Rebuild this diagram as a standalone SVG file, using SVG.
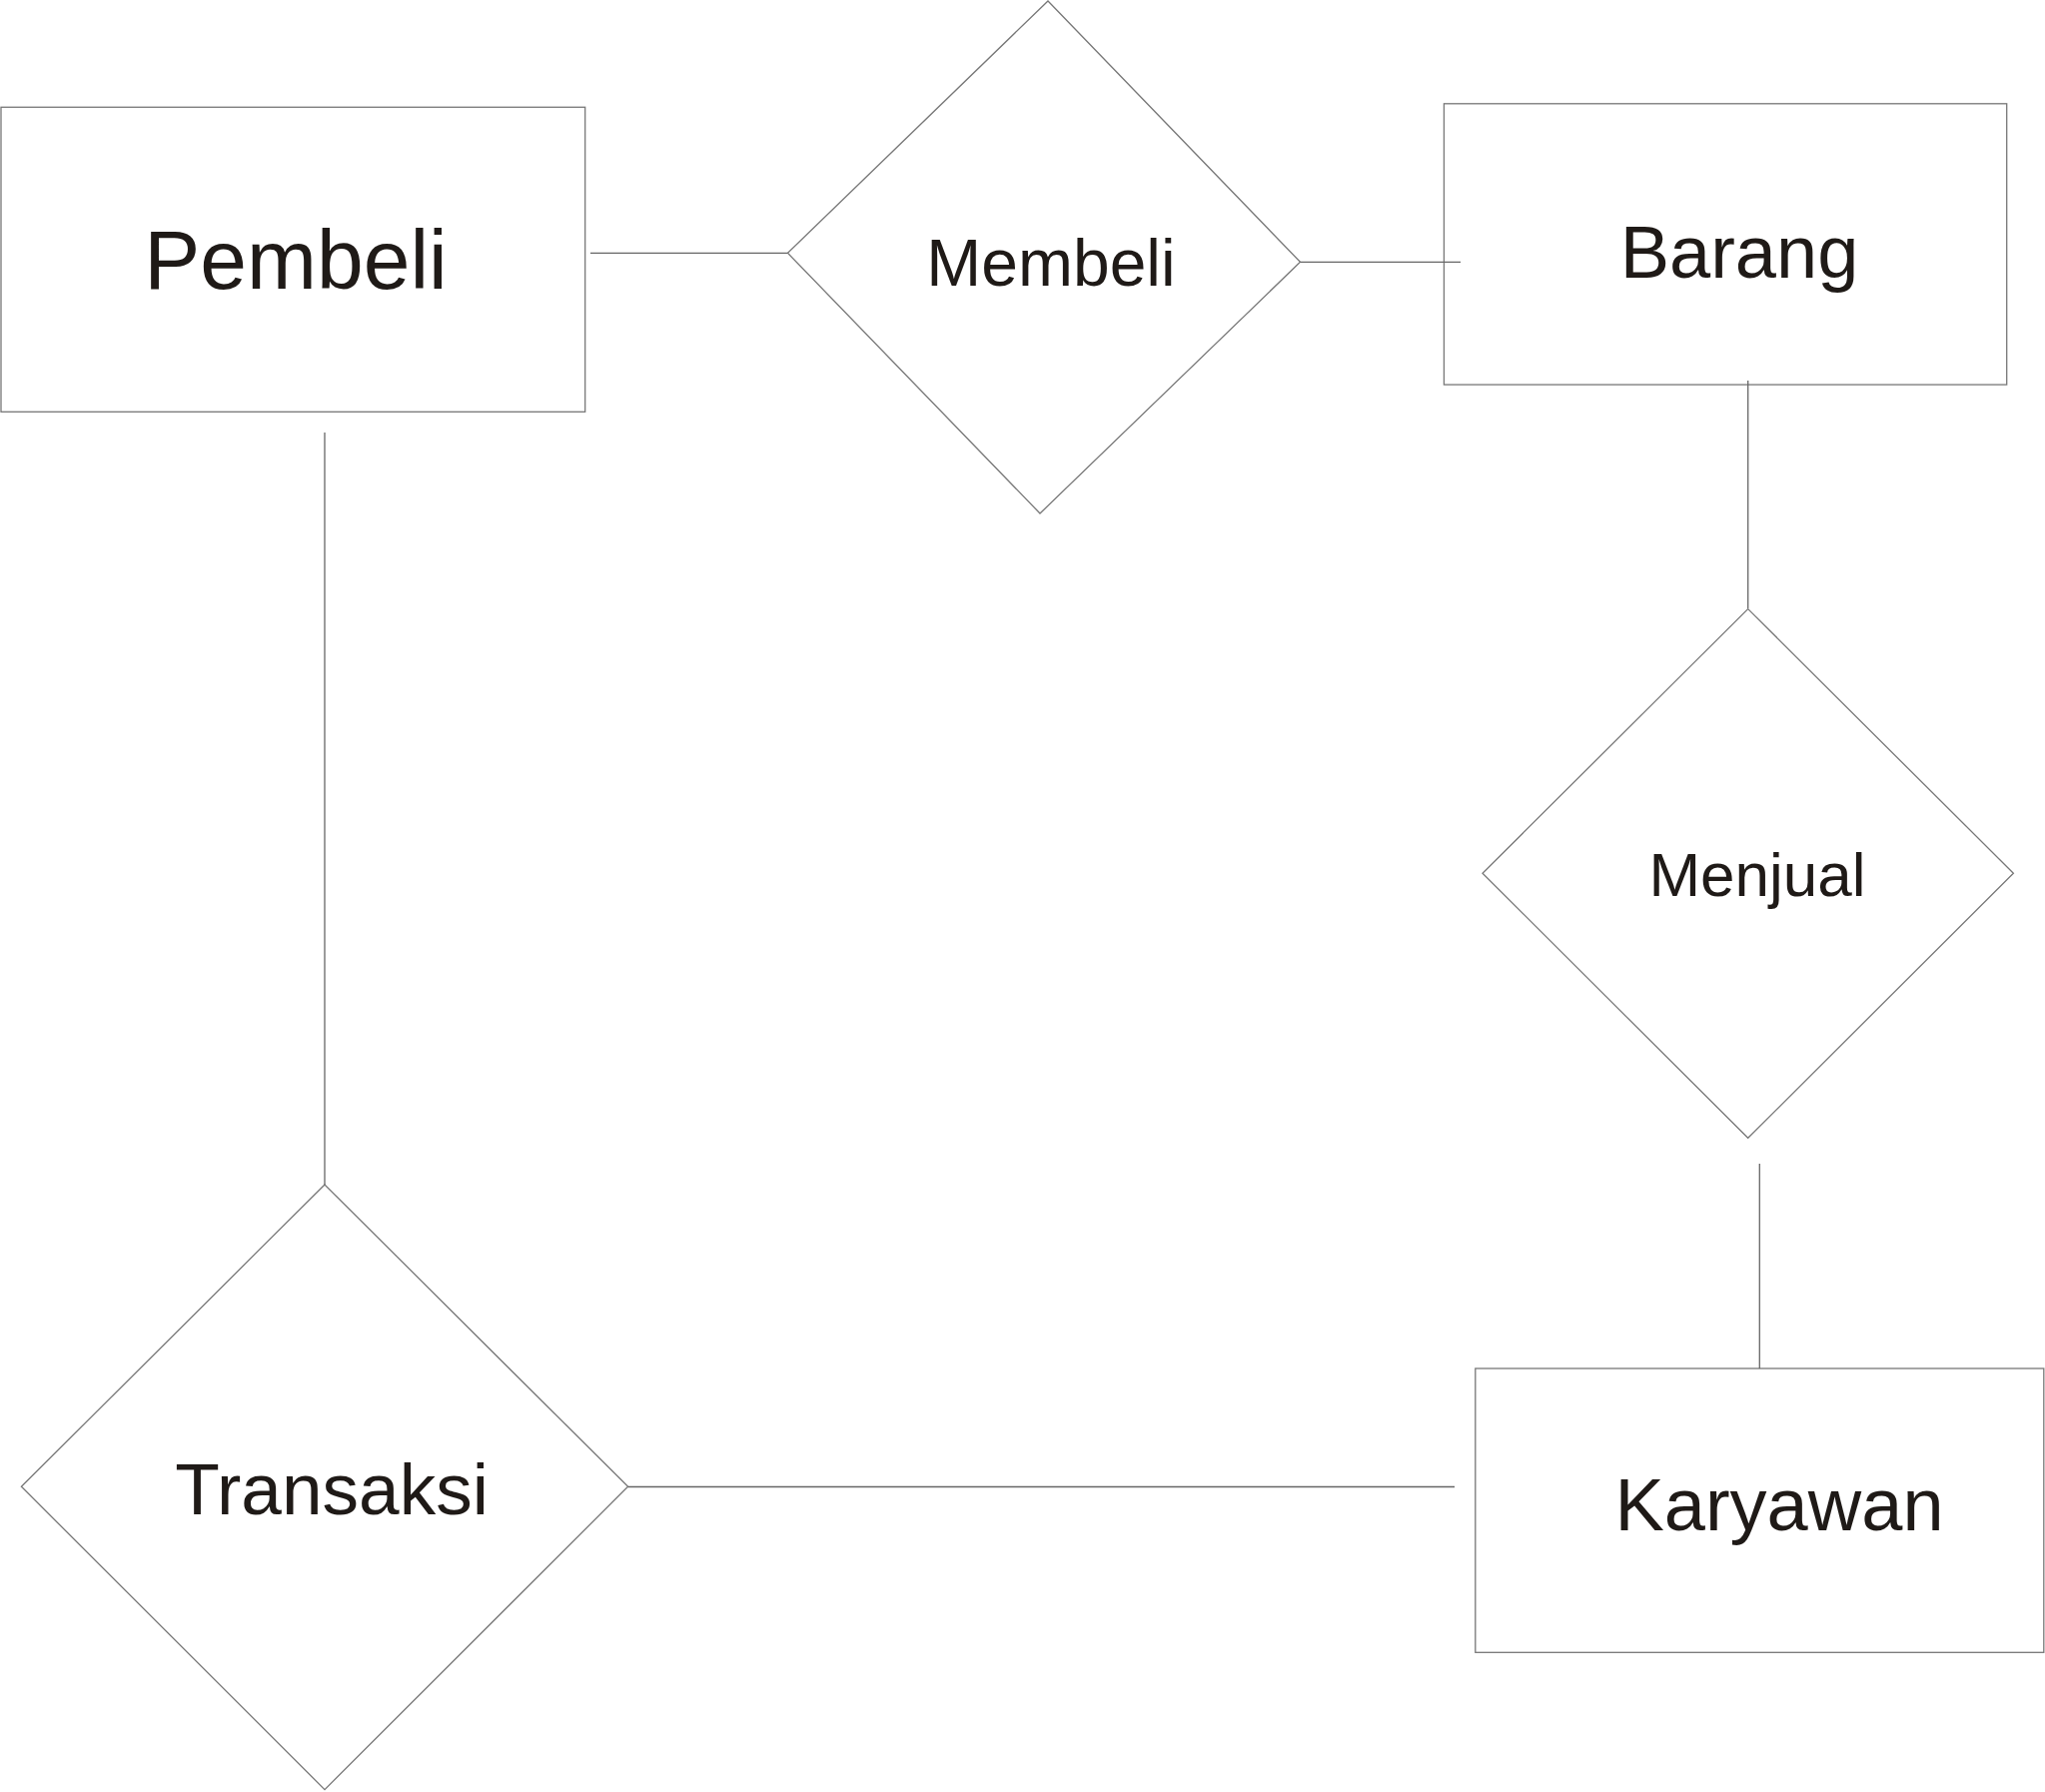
<svg xmlns="http://www.w3.org/2000/svg" width="2047" height="1794" viewBox="0 0 2047 1794">
<style>
.shape{fill:#ffffff;stroke:#777777;stroke-width:1.3}
.conn{stroke:#666666;stroke-width:1.3;fill:none}
.lbl{font-family:"Liberation Sans",Arial,sans-serif;fill:#1f1a17;text-anchor:middle}
</style>
<rect x="0" y="0" width="2047" height="1794" fill="#ffffff"/>
<g id="pembeli">
<rect class="shape" x="1" y="107.3" width="584.7" height="305"/>
<text class="lbl" x="296" y="289" font-size="84">Pembeli</text>
</g>
<g id="membeli">
<polygon class="shape" points="1049,1 1301.5,262.3 1041,514 788.5,253.3"/>
<text class="lbl" x="1052" y="286" font-size="66">Membeli</text>
</g>
<g id="barang">
<rect class="shape" x="1445.4" y="103.8" width="563.3" height="281.3"/>
<text class="lbl" x="1741" y="278" font-size="74">Barang</text>
</g>
<g id="menjual">
<polygon class="shape" points="1749.7,609.6 2015.4,874.3 1749.7,1139.3 1484,874.3"/>
<text class="lbl" x="1759" y="897" font-size="62">Menjual</text>
</g>
<g id="karyawan">
<rect class="shape" x="1476.8" y="1370" width="569" height="284.3"/>
<text class="lbl" x="1781" y="1532" font-size="74">Karyawan</text>
</g>
<g id="transaksi">
<polygon class="shape" points="325,1186 628.6,1488.3 325,1791.6 21.4,1488.3"/>
<text class="lbl" x="332" y="1516" font-size="73">Transaksi</text>
</g>
<g id="connectors">
<line class="conn" x1="591" y1="253.3" x2="788.5" y2="253.3"/>
<line class="conn" x1="1301.5" y1="262.3" x2="1462" y2="262.3"/>
<line class="conn" x1="1749.7" y1="381" x2="1749.7" y2="609"/>
<line class="conn" x1="1761.3" y1="1165" x2="1761.3" y2="1370"/>
<line class="conn" x1="628.6" y1="1488.5" x2="1456" y2="1488.5"/>
<line class="conn" x1="325" y1="433" x2="325" y2="1186"/>
</g>
</svg>
